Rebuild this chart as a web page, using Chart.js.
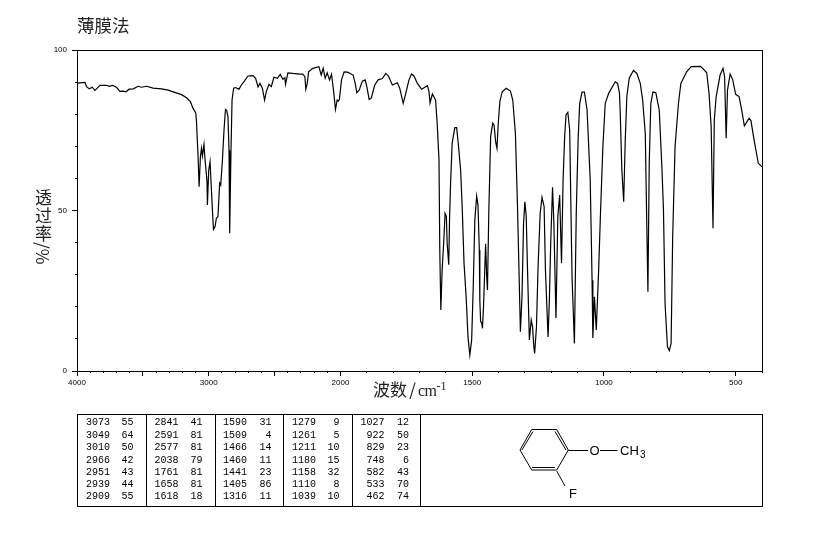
<!DOCTYPE html>
<html lang="zh">
<head>
<meta charset="utf-8">
<title>薄膜法</title>
<script src="https://cdn.jsdelivr.net/npm/chart.js@4/dist/chart.umd.min.js"></script>
<style>
html,body{margin:0;padding:0;background:#fff;}
#wrap{position:relative;width:822px;height:543px;overflow:hidden;color:#000;}
canvas{position:absolute;left:0;top:0;}
.ttl{position:absolute;font-family:"Noto Sans CJK SC",sans-serif;font-size:17px;color:#222;white-space:nowrap;line-height:1;}
#ytitle{left:35px;top:188px;width:17px;}
#ytitle span{display:block;height:18px;width:17px;text-align:center;}
#ytitle span.rot{height:17px;transform:rotate(90deg);transform-origin:center center;}
#xtitle{left:373px;top:380px;}
#xtitle .sl{display:inline-block;width:11px;text-align:center;}
#xtitle .lat{font-family:"Liberation Serif",serif;font-size:16px;letter-spacing:-0.5px;}
#xtitle sup{font-family:"Liberation Serif",serif;font-size:12px;position:relative;top:-6px;vertical-align:baseline;line-height:0;}
#peakbox{position:absolute;left:77px;top:414px;width:684px;height:91px;border:1px solid #000;}
.div{position:absolute;top:415px;width:1px;height:91px;background:#000;}
.pk{position:absolute;font-family:"Liberation Mono",monospace;font-size:10px;line-height:12px;text-align:right;width:30px;}
#mol{position:absolute;left:500px;top:415px;}
</style>
</head>
<body>
<div id="wrap">
<canvas id="c" width="822" height="543"></canvas>
<div class="ttl" id="ytitle"><span>透</span><span>过</span><span>率</span><span class="rot">/%</span></div>
<div class="ttl" id="xtitle">波数<span class="sl">/</span><span class="lat">cm</span><sup>-1</sup></div>
<div id="peakbox"></div>
<svg id="mol" width="170" height="90" viewBox="500 415 170 90" xmlns="http://www.w3.org/2000/svg">
<g stroke="#000" stroke-width="1" fill="none">
<path d="M531.7 429.5H556.7L568.3 450L556.7 470H531.7L520 450Z"/>
<path d="M521.9 450L533 431.5M555 431.5L566 450M532 467.5H555"/>
<path d="M568.3 450.5H588M600 450.5H617.5M556.7 471L565 486"/>
</g>
<g font-family="Liberation Sans" font-size="13" fill="#000">
<text x="589.5" y="455">O</text>
<text x="620" y="455">CH</text>
<text x="640" y="458" font-size="10">3</text>
<text x="569" y="498">F</text>
</g>
</svg>
</div>
<script>
const tickLabels = [4000, 3000, 2000, 1500, 1000, 500];
const majorXTicks = [4000, 3500, 3000, 2500, 2000, 1500, 1000, 500];
const minorXTicks = [4000,3900,3800,3700,3600,3500,3400,3300,3200,3100,3000,2900,2800,2700,2600,2500,2400,2300,2200,2100,2000,1900,1800,1700,1600,1500,1400,1300,1200,1100,1000,900,800,700,600,500,400];
const majorYTicks = [0, 50, 100];
const minorYTicks = [0,10,20,30,40,50,60,70,80,90,100];

const wavenumbers = [3998,3939,3927,3907,3884,3864,3846,3826,3775,3755,3730,3699,3674,3649,3629,3604,3573,3536,3510,3472,3422,3358,3308,3258,3207,3168,3139,3119,3098,3093,3081,3073,3063,3055,3048,3036,3030,3013,3010,3000,2990,2982,2972,2964,2952,2942,2930,2917,2909,2896,2884,2873,2864,2854,2846,2841,2831,2823,2811,2798,2770,2752,2730,2702,2664,2644,2626,2611,2593,2576,2563,2543,2525,2505,2479,2457,2437,2422,2417,2399,2361,2311,2286,2270,2263,2252,2242,2210,2164,2146,2131,2116,2101,2083,2068,2053,2038,2025,2015,2008,1996,1986,1973,1952,1944,1938,1929,1917,1906,1900,1891,1883,1870,1857,1841,1828,1818,1803,1784,1775,1762,1752,1740,1730,1721,1708,1692,1670,1664,1660,1651,1639,1633,1626,1623,1619,1614,1607,1603,1598,1595,1589,1586,1582,1576,1566,1559,1553,1544,1538,1531,1523,1516,1509,1502,1496,1490,1483,1478,1473,1471,1468,1464,1461,1457,1449,1445,1442,1437,1430,1422,1417,1411,1406,1401,1395,1386,1371,1355,1346,1336,1328,1323,1317,1311,1305,1300,1295,1290,1283,1276,1271,1266,1263,1256,1250,1242,1235,1227,1222,1212,1207,1202,1195,1190,1182,1175,1168,1161,1155,1149,1144,1137,1130,1121,1112,1105,1098,1092,1083,1074,1064,1052,1045,1042,1036,1029,1020,1013,1004,995,982,957,948,941,938,932,925,919,913,904,888,875,862,853,843,837,833,828,822,814,803,790,780,774,768,759,752,745,739,730,717,708,686,669,633,610,601,593,586,581,574,559,548,542,536,531,521,511,500,487,477,467,449,442,430,414,400];
const transmittance = [89.7,89.9,88.6,87.9,88.4,87.4,88.1,89.0,89.0,88.7,89.0,88.3,87.1,87.2,87.0,87.8,87.9,88.7,88.4,88.7,88.1,87.9,87.5,86.8,86.1,85.1,83.9,81.8,80.3,77.7,66.8,57.4,66.8,69.4,67,70.6,66.8,59,51.7,62.6,65.2,58.5,50.2,44.1,45,47.6,48.1,58.5,57.9,65.7,75.1,81.5,81.3,79.2,68.8,42.9,68.8,84.4,88.1,88.3,87.8,89.1,90.3,91.9,92,91.2,88.5,89.6,88.1,84.4,87,89.3,88.6,91.5,91.2,92.4,90.9,91.4,89.3,92.9,92.7,92.5,92.5,91.7,87.8,89.6,93.2,94.3,94.8,92.2,94.3,91.2,92.9,90.7,92.5,87.5,81.5,84.4,84.1,84.6,90.7,93.2,93.1,92.2,89.6,86.7,87.5,90.3,90.7,88.6,84.6,85,89.1,90.7,91.1,92.7,91.9,89.1,89.8,88.1,83.4,86.5,90.7,92.5,91.9,89.6,87.8,88.9,87.1,83.5,86.3,84.4,77.3,65.7,37.7,19,31.5,41.8,49.1,48.1,39.8,33.1,47,58.6,71,75.8,75.8,71,62.7,51.2,33.6,23.1,10.7,5,9.7,26.3,47,54.5,51.7,37.7,22.1,15.4,15,13.3,20,39.6,29.4,25.2,49.2,73,77.2,76.6,71.4,69.4,77.2,83.9,87,88.1,87.2,84.4,74,51.2,33.6,12.2,23.1,46.1,52.7,48.3,31.5,9.7,15.9,13.8,7.6,5.5,13.8,32.5,49.1,54.1,51.2,31.5,10.6,22.1,39.9,57.2,46.1,16.5,48.1,54.8,33.6,59.5,73,79.8,80.6,75.1,29.4,8.6,49.2,72,83.4,86.9,86.9,81.3,59.5,28.3,10.3,23.1,12.8,31.5,49.2,69.9,83.4,86.5,90.1,89.6,86.5,80.4,62.6,52.7,72,85.5,91.2,93.6,92.7,89.6,84.4,74,43.9,24.7,64.7,83.4,86.9,86.7,81.3,63.6,50.2,21.1,7.6,6.3,8.6,41.8,69.9,83.4,89.6,93.2,94.8,94.9,93,86.5,76.1,44.5,78.2,85.5,92.2,94.3,91.7,72.5,87.5,92.5,90.7,86.2,85.5,81.3,76.4,78.7,78,71.9,64.7,63.6];

const peakWavenumbers = [
  ["3073","3049","3010","2966","2951","2939","2909"],
  ["2841","2591","2577","2038","1761","1658","1618"],
  ["1590","1509","1466","1460","1441","1405","1316"],
  ["1279","1261","1211","1180","1158","1110","1039"],
  ["1027","922","829","748","582","533","462"]
];
const peakValues = [
  ["55","64","50","42","43","44","55"],
  ["41","81","81","79","81","81","18"],
  ["31","4","14","11","23","86","11"],
  ["9","5","10","15","32","8","10"],
  ["12","50","23","6","43","70","74"]
];

/* IR spectra use a doubled horizontal scale below 2000 cm-1. */
class SpectrumScale extends Chart.LinearScale {
  _frac(v) {
    const u = v >= 2000 ? (4000 - v) * 0.5 : 1000 + (2000 - v);
    return u / 2600;
  }
  getPixelForValue(v) { return this.getPixelForDecimal(this._frac(v)); }
  getValueForPixel(p) {
    const u = this.getDecimalForPixel(p) * 2600;
    return u <= 1000 ? 4000 - u * 2 : 2000 - (u - 1000);
  }
}
SpectrumScale.id = 'spectrum';
SpectrumScale.defaults = Chart.LinearScale.defaults;
Chart.register(SpectrumScale);

const frame = {
  id: 'frame',
  afterDraw(chart) {
    const a = chart.chartArea, ctx = chart.ctx;
    ctx.save();
    ctx.strokeStyle = '#000';
    ctx.lineWidth = 1;
    ctx.strokeRect(a.left + 0.5, a.top + 0.5, a.width, a.height);
    ctx.restore();
  }
};

const tickFont = { family: '"Liberation Sans", sans-serif', size: 8 };
/* Zero-sized axis boxes keep the plot area fixed; their labels must not be clipped to the box. */
const noClip = s => { s._computeLabelArea = () => undefined; };
const zeroH = s => { s.height = 0; noClip(s); };
const zeroW = s => { s.width = 0; noClip(s); };
const fixed = list => s => { s.ticks = list.map(value => ({ value })); };
const tickGrid = len => ({ drawOnChartArea: false, drawTicks: true, tickLength: len, color: '#000', tickColor: '#000', lineWidth: 1 });
const hiddenTicks = { display: false, autoSkip: false };

new Chart(document.getElementById('c'), {
  type: 'line',
  data: {
    datasets: [{
      data: wavenumbers.map((x, i) => ({ x, y: transmittance[i] })),
      xAxisID: 'x', yAxisID: 'y',
      borderColor: '#000', borderWidth: 1.2, pointRadius: 0, tension: 0, fill: false
    }]
  },
  plugins: [frame],
  options: {
    responsive: false, animation: false, devicePixelRatio: 1,
    layout: { padding: { left: 77, right: 60, top: 0, bottom: 172 } },
    plugins: {
      legend: { display: false }, tooltip: { enabled: false },
      title: {
        display: true, text: '薄膜法', align: 'start', color: '#222',
        font: { family: '"Noto Sans CJK SC", sans-serif', size: 17.5, weight: 'normal', lineHeight: 1.2 },
        padding: { top: 15, bottom: 14 }
      }
    },
    scales: {
      x: {
        type: 'spectrum', position: 'bottom', min: 400, max: 4000,
        afterFit: zeroH, afterBuildTicks: fixed(majorXTicks),
        grid: tickGrid(5), border: { color: '#000', width: 1 },
        ticks: {
          autoSkip: false, maxRotation: 0, minRotation: 0, padding: 2, color: '#000', font: tickFont,
          callback: v => tickLabels.includes(v) ? String(v) : ''
        }
      },
      xMinor: {
        type: 'spectrum', position: 'bottom', min: 400, max: 4000,
        afterFit: zeroH, afterBuildTicks: fixed(minorXTicks),
        grid: tickGrid(2), border: { display: false }, ticks: hiddenTicks
      },
      y: {
        type: 'linear', position: 'left', min: 0, max: 100,
        afterFit: zeroW, afterBuildTicks: fixed(majorYTicks),
        grid: tickGrid(5), border: { color: '#000', width: 1 },
        ticks: { autoSkip: false, padding: 5, color: '#000', font: tickFont, callback: v => String(v) }
      },
      yMinor: {
        type: 'linear', position: 'left', min: 0, max: 100,
        afterFit: zeroW, afterBuildTicks: fixed(minorYTicks),
        grid: tickGrid(2), border: { display: false }, ticks: hiddenTicks
      }
    }
  }
});

/* Peak table and its column dividers */
const wrap = document.getElementById('wrap');
const wnRight = [110, 178.5, 247, 316, 384.5];
const valRight = [133.5, 202.5, 271.5, 339.5, 409];
const rowTop = [417, 429.5, 442, 454.5, 467, 479, 491];
[146, 215, 283, 352, 420].forEach(x => {
  const d = document.createElement('div');
  d.className = 'div'; d.style.left = x + 'px';
  wrap.appendChild(d);
});
const addPk = (text, right, top) => {
  const s = document.createElement('span');
  s.className = 'pk'; s.textContent = text;
  s.style.left = (right - 30) + 'px'; s.style.top = top + 'px';
  wrap.appendChild(s);
};
peakWavenumbers.forEach((col, c) => col.forEach((w, r) => {
  addPk(w, wnRight[c], rowTop[r]);
  addPk(peakValues[c][r], valRight[c], rowTop[r]);
}));
</script>
</body>
</html>
